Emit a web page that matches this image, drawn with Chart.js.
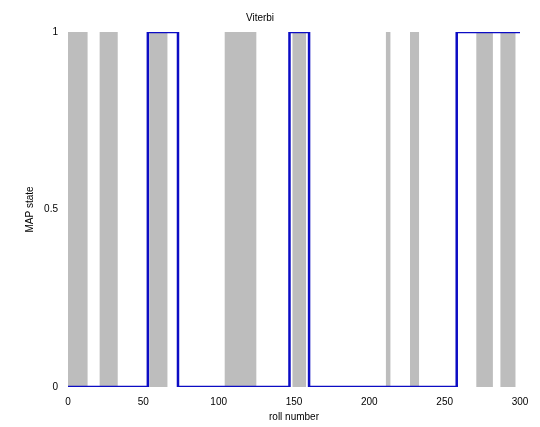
<!DOCTYPE html>
<html>
<head>
<meta charset="utf-8">
<script src="https://cdn.jsdelivr.net/npm/chart.js@4"></script>
<style>
  html, body { margin: 0; padding: 0; background: #fff; }
  #wrap { width: 540px; height: 427px; }
</style>
</head>
<body>
<div id="wrap"><canvas id="myChart"></canvas></div>
<script>
// true die state (grey), change points on the roll axis
const dieX     = [0, 13, 21, 33, 54, 66, 104, 125, 149, 158, 211, 214, 227, 233, 271, 282, 287, 297, 300];
const dieState = [1, 0,  1,  0,  1,  0,  1,   0,   1,   0,   1,   0,   1,   0,   1,   0,   1,   0,   0];

// Viterbi MAP state (blue)
const mapX     = [0, 53, 73, 147, 160, 258, 300];
const mapState = [0, 1,  0,  1,   0,   1,   1];

const xTicks = [0, 50, 100, 150, 200, 250, 300];
const yTicks = [0, 0.5, 1];

const font = { family: "'Liberation Sans', Arial, sans-serif", size: 10, weight: 'normal' };

const data = {
    datasets: [
        {
            label: 'MAP state',
            data: mapX.map((x, i) => ({ x: x, y: mapState[i] })),
            stepped: 'before',
            borderColor: '#0c0cc4',
            borderWidth: 2.5,
            pointRadius: 0,
            fill: false
        },
        {
            label: 'true state',
            data: dieX.map((x, i) => ({ x: x, y: dieState[i] })),
            stepped: 'before',
            borderWidth: 0,
            borderColor: 'rgba(0,0,0,0)',
            backgroundColor: '#bdbdbd',
            pointRadius: 0,
            fill: 'origin'
        }
    ]
};

const config = {
    type: 'line',
    data: data,
    options: {
        responsive: true,
        maintainAspectRatio: false,
        animation: false,
        layout: { padding: { left: 0, right: 20, top: 0, bottom: 4 } },
        plugins: {
            legend: { display: false },
            tooltip: { enabled: false },
            title: {
                display: true,
                text: 'Viterbi',
                color: '#000',
                font: font,
                padding: { top: 12, bottom: 8 }
            }
        },
        scales: {
            x: {
                type: 'linear',
                min: 0,
                max: 300,
                afterBuildTicks: (s) => { s.ticks = xTicks.map(v => ({ value: v })); },
                ticks: { color: '#000', font: font, padding: 1, maxRotation: 0 },
                grid: { display: false },
                border: { display: false },
                title: { display: true, text: 'roll number', color: '#000', font: font, padding: { top: 2, bottom: 0 } },
                afterFit: (s) => { s.height = 36; }
            },
            y: {
                min: 0,
                max: 1,
                afterBuildTicks: (s) => { s.ticks = yTicks.map(v => ({ value: v })); },
                ticks: { color: '#000', font: font, padding: 2, callback: (v) => String(v) },
                grid: { display: false },
                border: { display: false },
                title: { display: true, text: 'MAP state', color: '#000', font: font, padding: { top: 24, bottom: 0 } },
                afterFit: (s) => { s.width = 68; }
            }
        }
    }
};

const myChart = new Chart(document.getElementById('myChart'), config);
</script>
</body>
</html>
